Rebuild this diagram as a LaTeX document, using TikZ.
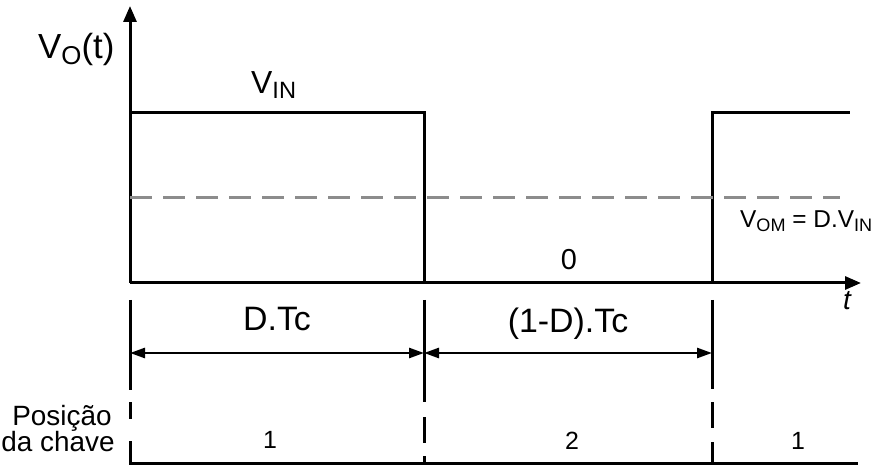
\documentclass[tikz,border=0pt]{standalone}
\usepackage{fontspec}
\setmainfont{Liberation Sans}
\usetikzlibrary{arrows.meta}
\newcommand\lowsub[1]{\raisebox{-0.15em}{\scalebox{0.74}{#1}}}
\begin{document}
\begin{tikzpicture}[x=1bp,y=-1bp,
  ln/.style={line width=3bp, line cap=butt},
  axarrow/.style={ln,-{Triangle[length=16bp,width=13bp]}},
  dimarrow/.style={line width=2.6bp,{Triangle[length=15bp,width=10bp]}-{Triangle[length=15bp,width=10bp]}},
  avg/.style={line width=3bp, color=black!45, dash pattern=on 22bp off 11bp},
  lbl/.style={inner sep=0pt, anchor=base},
  big/.style={font=\fontsize{35}{35}\selectfont},
  mid/.style={font=\fontsize{34}{34}\selectfont},
  med/.style={font=\fontsize{32}{32}\selectfont},
  sml/.style={font=\fontsize{28}{28}\selectfont},
  oml/.style={font=\fontsize{24.5}{26}\selectfont},
  zer/.style={font=\fontsize{29}{29}\selectfont},
  tiny/.style={font=\fontsize{25}{25}\selectfont},
]
\useasboundingbox (0,0) rectangle (874,466);
% axes
\coordinate (O) at (130,283);
\coordinate (Ytop) at (130,6);
\coordinate (Xend) at (861,283);
\draw[axarrow] (O) -- (Ytop);
\draw[axarrow] (O) -- (Xend);
% waveform
\coordinate (H0) at (130,113);
\coordinate (H1) at (424,113);
\coordinate (L1) at (424,283);
\coordinate (L2) at (712,283);
\coordinate (H2) at (712,113);
\coordinate (H3) at (850,113);
\draw[ln] (H0) -- (H1) -- (L1);
\draw[ln] (L2) -- (H2) -- (H3);
% average
\coordinate (A0) at (130,198);
\coordinate (A1) at (840,198);
\draw[avg] (A0) -- (A1);
% bottom markers
\coordinate (B0a) at (130,300);
\coordinate (B0b) at (130,390);
\coordinate (B0c) at (130,402);
\coordinate (B0d) at (130,419);
\coordinate (B0e) at (130,441);
\coordinate (B0f) at (130,463);
\coordinate (Bend) at (858,463);
\draw[ln] (B0a) -- (B0b);
\draw[ln] (B0c) -- (B0d);
\draw[ln] (B0e) -- (B0f) -- (Bend);
\coordinate (B1a) at (424,300);
\coordinate (B1b) at (424,402);
\coordinate (B1c) at (424,417);
\coordinate (B1d) at (424,443);
\coordinate (B1e) at (424,456);
\coordinate (B1f) at (424,463);
\draw[ln] (B1a) -- (B1b);
\draw[ln] (B1c) -- (B1d);
\draw[ln] (B1e) -- (B1f);
\coordinate (B2a) at (712,300);
\coordinate (B2b) at (712,389);
\coordinate (B2c) at (712,402);
\coordinate (B2d) at (712,428);
\coordinate (B2e) at (712,442);
\coordinate (B2f) at (712,463);
\draw[ln] (B2a) -- (B2b);
\draw[ln] (B2c) -- (B2d);
\draw[ln] (B2e) -- (B2f);
% dimension arrows
\coordinate (D0) at (130,353);
\coordinate (D1) at (424,353);
\coordinate (D2) at (712,353);
\draw[dimarrow] (D0) -- (D1);
\draw[dimarrow] (D1) -- (D2);
% labels
\node[lbl,big,anchor=base west] (vo) at (38,59) {V\lowsub{O}(t)};
\node[lbl,med,anchor=base west] (vin) at (251,94) {V\lowsub{IN}};
\node[lbl,oml,anchor=base west] (vom) at (740,228) {V\lowsub{OM} = D.V\lowsub{IN}};
\node[lbl,zer] (zero) at (569,270) {0};
\node[lbl,sml,anchor=base] (t) at (847,310) {\itshape t};
\node[lbl,mid] (dtc) at (277,331) {D.Tc};
\node[lbl,mid] (ddtc) at (568,333) {(1-D).Tc};
\node[lbl,sml,anchor=base] (pos1) at (62,425) {Posição};
\node[lbl,sml,anchor=base] (pos2) at (58,451) {da chave};
\node[lbl,tiny] (s1) at (270,448) {1};
\node[lbl,tiny] (s2) at (572,449) {2};
\node[lbl,tiny] (s3) at (798,449) {1};
\end{tikzpicture}
\end{document}
